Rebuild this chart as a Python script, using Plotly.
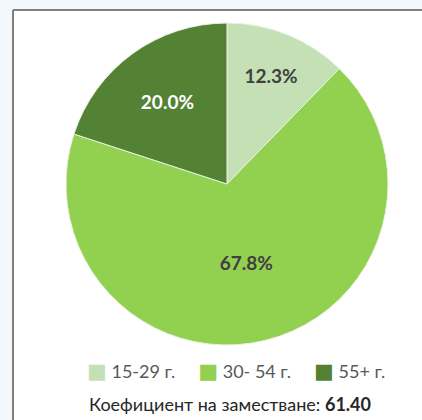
import plotly.graph_objects as go

categories = ["15-29 г.", "30- 54 г.", "55+ г."]
values = [12.3, 67.8, 20.0]
colors = ["#c5e0b4", "#92d050", "#548235"]
text_colors = ["#404040", "#404040", "#ffffff"]
caption_label = "Коефициент на заместване:"
caption_value = "61.40"

W, H = 422, 420

fig = go.Figure()
fig.add_trace(go.Pie(
    labels=categories,
    values=values,
    sort=False,
    direction="clockwise",
    rotation=0,
    marker=dict(colors=colors, line=dict(color="#e8f2e0", width=1)),
    texttemplate="%{value:.1f}%",
    textposition="inside",
    insidetextorientation="horizontal",
    insidetextfont=dict(family="Lato", size=19, color=text_colors, weight="bold"),
    hoverinfo="label+value",
    showlegend=False,
    domain=dict(x=[66 / W, 388 / W], y=[1 - 345 / H, 1 - 23 / H]),
))

legend_html = "&nbsp;&nbsp;&nbsp;&nbsp;&nbsp;".join(
    f"<span style='color:{c};font-family:DejaVu Sans;font-size:21px'>■</span> {cat}"
    for cat, c in zip(categories, colors)
)

px0, py1 = 13 / W, 1 - 10 / H
border = dict(color="#7f7f7f", width=2)
fig.update_layout(
    width=W, height=H,
    margin=dict(l=0, r=0, t=0, b=0),
    paper_bgcolor="#f3f8fc",
    plot_bgcolor="#ffffff",
    font=dict(family="Lato", color="#595959"),
    showlegend=False,
    shapes=[
        dict(type="rect", xref="paper", yref="paper",
             x0=px0, x1=1.5, y0=-0.5, y1=py1,
             fillcolor="#ffffff", line=dict(width=0), layer="below"),
        dict(type="line", xref="paper", yref="paper",
             x0=px0, x1=1.5, y0=py1, y1=py1, line=border, layer="below"),
        dict(type="line", xref="paper", yref="paper",
             x0=px0, x1=px0, y0=-0.5, y1=py1, line=border, layer="below"),
    ],
    annotations=[
        dict(
            text=legend_html,
            xref="paper", yref="paper",
            x=236 / W, y=1 - 371 / H, xanchor="center", yanchor="middle",
            showarrow=False,
            font=dict(family="Lato", size=18, color="#595959"),
        ),
        dict(
            text=f"{caption_label} <b>{caption_value}</b>",
            xref="paper", yref="paper",
            x=230 / W, y=1 - 404 / H, xanchor="center", yanchor="middle",
            showarrow=False,
            font=dict(family="Lato", size=18, color="#262626"),
        ),
    ],
)

fig.write_html(
    "out.html",
    config={"displayModeBar": False},
    post_script=(
        "document.body.style.margin='0';"
        "document.body.style.background='#f3f8fc';"
        "document.body.style.overflow='hidden';"
        "document.documentElement.style.overflow='hidden';"
    ),
)
